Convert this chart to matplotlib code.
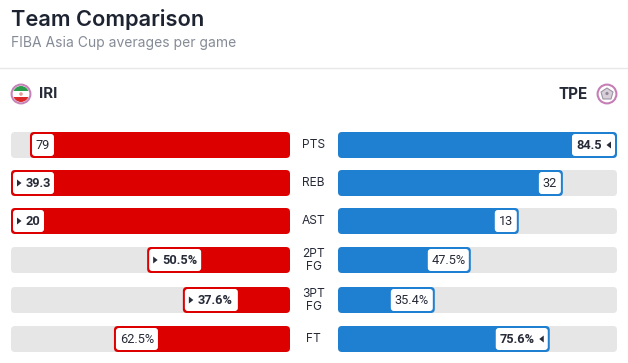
import matplotlib
matplotlib.use("Agg")
import matplotlib.pyplot as plt
from matplotlib.patches import Circle, FancyBboxPatch, Polygon, Rectangle

W, H = 628, 363
TRACK_W = 279

stats = ["PTS", "REB", "AST", "2PT\nFG", "3PT\nFG", "FT"]
iri_labels = ["79", "39.3", "20", "50.5%", "37.6%", "62.5%"]
tpe_labels = ["84.5", "32", "13", "47.5%", "35.4%", "75.6%"]
# bar length as percent of the track
iri_fill = [93.2, 100, 100, 51.2, 38.4, 63.1]
tpe_fill = [100, 80.6, 64.8, 47.6, 34.7, 75.9]
iri_leads = [False, True, True, True, True, False]
tpe_leads = [True, False, False, False, False, True]

row_tops = [132, 170, 208, 247, 287, 326]
ROW_H = 26
iri_box_w = [22, 41, 31, 52, 53, 42]
tpe_box_w = [43, 22, 22, 41, 42, 52]

RED = "#dc0000"
BLUE = "#1f7fd0"
TRACK = "#e6e6e6"
INK = "#272b38"
FONT = "Inter"
CHIP_FONT = "Roboto"


def px_axes(fig, x0, x1, y0, y1):
    return fig.add_axes([x0 / W, 1 - y1 / H, (x1 - x0) / W, (y1 - y0) / H])


def round_bar(ax, start, length, top, color):
    # y is in pixels and x in percent, so the aspect keeps the corners round
    aspect = TRACK_W / 100
    ax.add_patch(FancyBboxPatch((start, top), length, ROW_H,
                                boxstyle=f"round,pad=0,rounding_size={4 / aspect}",
                                mutation_aspect=aspect, fc=color, ec="none"))


def draw_side(ax, fills, color):
    ax.set_ylim(row_tops[-1] + ROW_H, row_tops[0])
    ax.axis("off")
    for top, fill in zip(row_tops, fills):
        round_bar(ax, 0, 100, top, TRACK)
        round_bar(ax, 0, fill, top, color)


fig = plt.figure(figsize=(W / 100, H / 100), dpi=100, facecolor="white")

ax_l = px_axes(fig, 11, 290, 132, 352)
ax_l.set_xlim(100, 0)
draw_side(ax_l, iri_fill, RED)

ax_r = px_axes(fig, 338, 617, 132, 352)
ax_r.set_xlim(0, 100)
draw_side(ax_r, tpe_fill, BLUE)

# overlay in pixel coordinates for header and value chips
ov = fig.add_axes([0, 0, 1, 1], zorder=5)
ov.set_xlim(0, W)
ov.set_ylim(H, 0)
ov.axis("off")
ov.patch.set_alpha(0)

ov.text(11, 19.5, "Team Comparison", fontsize=15.7, fontweight="semibold",
        family=FONT, color="#1d2331", va="center")
ov.text(11, 42.5, "FIBA Asia Cup averages per game", fontsize=10, family=FONT,
        color="#858b96", va="center")
ov.plot([0, W], [67.5, 67.5], color="#e8e8ea", lw=1)

ov.text(39, 94.5, "IRI", fontsize=10.8, fontweight="bold", family=FONT, color=INK, va="center")
ov.text(588, 94.5, "TPE", fontsize=11, fontweight="bold", family=FONT, color=INK,
        va="center", ha="right")

# Iran logo
clip = Circle((21, 94), 8, transform=ov.transData)
for y, h, c in [(86, 5.3, "#2a9d4c"), (91.3, 5.4, "white"), (96.7, 5.3, "#dc2a2a")]:
    band = Rectangle((13, y), 16, h, fc=c, ec="none")
    ov.add_patch(band)
    band.set_clip_path(clip)
ov.add_patch(Circle((21, 94), 1.8, fc="#e59a9a", ec="none"))
ov.add_patch(Circle((21, 94), 9.4, fc="none", ec="#c583b8", lw=1.5))

# Chinese Taipei logo
ov.add_patch(Circle((607, 94), 9.4, fc="white", ec="#c67fb6", lw=1.5))
ov.add_patch(Polygon([(607, 88), (613, 92), (611, 99), (603, 99), (601, 92)],
                     fc="#d9cfd9", ec="#9d94a5", lw=0.8))
ov.add_patch(Circle((607, 93.5), 1.6, fc="#8d8a9c", ec="none"))

for i, stat in enumerate(stats):
    top = row_tops[i]
    mid = top + ROW_H / 2
    ov.text(313.5, mid + 0.5, stat, fontsize=8.6, family=FONT, color=INK, ha="center",
            va="center", linespacing=1.15)

    # IRI chip sits at the inner end of the bar
    left = 290 - TRACK_W * iri_fill[i] / 100 + 2
    w = iri_box_w[i]
    ov.add_patch(FancyBboxPatch((left, top + 2), w, ROW_H - 4,
                                boxstyle="round,pad=0,rounding_size=3", fc="white", ec="none"))
    if iri_leads[i]:
        ov.add_patch(Polygon([(left + 4, mid - 3.5), (left + 4, mid + 3.5), (left + 8.5, mid)],
                             fc=INK, ec="none"))
        ov.text(left + 13, mid + 0.3, iri_labels[i], fontsize=9.2, fontweight="bold",
                family=CHIP_FONT, color=INK, va="center")
    else:
        ov.text(left + w / 2, mid + 0.3, iri_labels[i], fontsize=9.2, family=CHIP_FONT, color=INK,
                va="center", ha="center")

    # TPE chip
    right = 338 + TRACK_W * tpe_fill[i] / 100 - 2
    w = tpe_box_w[i]
    ov.add_patch(FancyBboxPatch((right - w, top + 2), w, ROW_H - 4,
                                boxstyle="round,pad=0,rounding_size=3", fc="white", ec="none"))
    if tpe_leads[i]:
        ov.add_patch(Polygon([(right - 4, mid - 3.5), (right - 4, mid + 3.5), (right - 8.5, mid)],
                             fc=INK, ec="none"))
        ov.text(right - 13, mid + 0.3, tpe_labels[i], fontsize=9.2, fontweight="bold",
                family=CHIP_FONT, color=INK, va="center", ha="right")
    else:
        ov.text(right - w / 2, mid + 0.3, tpe_labels[i], fontsize=9.2, family=CHIP_FONT, color=INK,
                va="center", ha="center")

fig.savefig("out.png", dpi=100)
